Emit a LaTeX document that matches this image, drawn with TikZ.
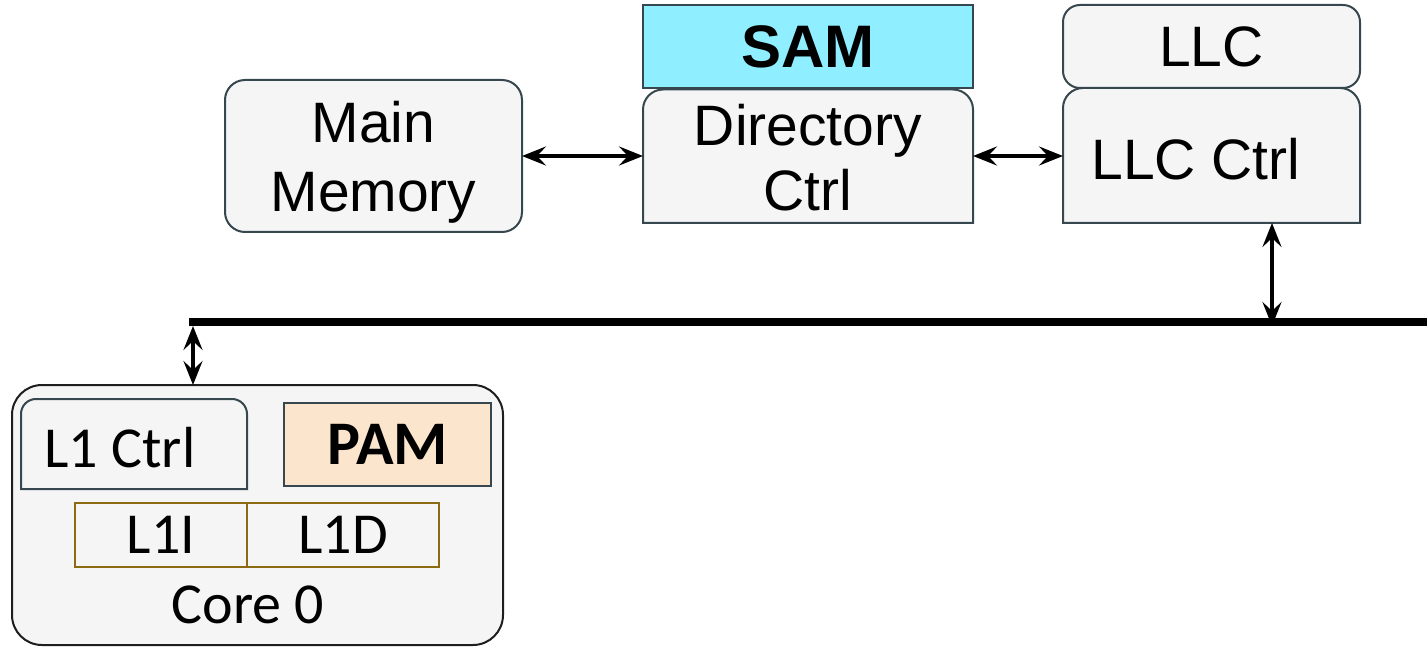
\documentclass[tikz,border=0pt]{standalone}
\usepackage{fontspec}
\setmainfont{Liberation Sans}
\newfontfamily\calfont{Carlito}
\usetikzlibrary{arrows.meta,backgrounds}
\definecolor{boxfill}{HTML}{F5F5F5}
\definecolor{boxline}{HTML}{36474F}
\definecolor{coreline}{HTML}{1E1E1E}
\definecolor{samfill}{HTML}{8FEEFF}
\definecolor{pamfill}{HTML}{FCE5CD}
\definecolor{cacheline}{HTML}{8C6A12}
\tikzset{linktip/.tip={Stealth[length=24pt 0,width=19pt 0,inset=9pt 0]}}
\begin{document}
\begin{tikzpicture}[x=1pt,y=-1pt,
  every node/.style={inner sep=0pt,outer sep=0pt,text depth=0pt},
  sans/.style={font=\fontsize{57}{68}\selectfont},
  sansbold/.style={font=\fontsize{60}{70}\selectfont\bfseries},
  cal/.style={font=\fontsize{58}{68}\selectfont\calfont},
  calbold/.style={font=\fontsize{62}{72}\selectfont\calfont\bfseries},
  tile/.style={draw=boxline,fill=boxfill,line width=2pt},
  shell/.style={draw=boxline,fill=boxfill,line width=2pt},
  cachebox/.style={draw=cacheline,line width=2pt,minimum height=64pt},
  link/.style={linktip-linktip,line width=3.5pt},
  bus/.style={line width=8pt}]
\useasboundingbox (0,0) rectangle (1427,647);

% upper row: memory, directory, last-level cache
\node[tile,sans,align=center,rounded corners=20pt,minimum width=297pt,minimum height=152pt] (mem) at (373.5,156) {Main\\[1pt]Memory};
\node[draw=boxline,fill=samfill,line width=2pt,sansbold,minimum width=330pt,minimum height=83pt] (sam) at (808,46.5) {SAM};
\node[sans,align=center,minimum width=330pt,minimum height=135pt] (dir) at (808,157) {Directory\\[-3pt]Ctrl};
\node[tile,sans,rounded corners=17pt,minimum width=297pt,minimum height=83pt] (llc) at (1211.5,46.5) {LLC};
\node[minimum width=297pt,minimum height=135pt] (llcctrl) at (1211.5,155.5) {};
\node[sans,anchor=base] (llcctrltxt) at (1196,180) {LLC Ctrl};

% core 0 contents
\node[minimum width=226pt,minimum height=90pt] (l1ctrl) at (134,444) {};
\node[cal,anchor=base] (l1ctrltxt) at (120,467) {L1 Ctrl};
\node[draw=boxline,fill=pamfill,line width=2pt,calbold,minimum width=207pt,minimum height=83pt] (pam) at (387.5,444.5) {PAM};
\node[cachebox,cal,minimum width=172pt] (l1i) at (161,535) {L1I};
\node[cachebox,cal,minimum width=192pt] (l1d) at (343,535) {L1D};
\node[cal,anchor=base] (corelbl) at (248,623) {Core 0};

% shells drawn underneath the labels
\begin{scope}[on background layer]
  \node[draw=coreline,fill=boxfill,line width=2pt,rounded corners=30pt,minimum width=491pt,minimum height=260pt] (core) at (257.5,515) {};
  \draw[shell] ([yshift=1.5pt]dir.south west) -- ([yshift=-20pt]dir.north west)
    arc[start angle=180,end angle=90,radius=20pt] -- ([xshift=-20pt]dir.north east)
    arc[start angle=90,end angle=0,radius=20pt] -- ([yshift=1.5pt]dir.south east) -- cycle;
  \draw[shell] (llcctrl.south west) -- ([yshift=-20pt]llcctrl.north west)
    arc[start angle=180,end angle=90,radius=20pt] -- ([xshift=-20pt]llcctrl.north east)
    arc[start angle=90,end angle=0,radius=20pt] -- (llcctrl.south east) -- cycle;
  \draw[shell] (l1ctrl.south west) -- ([yshift=-15pt]l1ctrl.north west)
    arc[start angle=180,end angle=90,radius=15pt] -- ([xshift=-15pt]l1ctrl.north east)
    arc[start angle=90,end angle=0,radius=15pt] -- (l1ctrl.south east) -- cycle;
\end{scope}

% interconnect
\coordinate (busL) at (189,322);
\coordinate (busR) at (1427,322);
\draw[bus] (busL) -- (busR);
\coordinate (llctap) at (1272,326);
\coordinate (coretap) at (193,322);

\draw[link] (mem.east) -- (mem.east -| dir.west);
\draw[link] (dir.east |- mem.east) -- (llcctrl.west |- mem.east);
\draw[link] (llctap |- llcctrl.south) -- (llctap);
\draw[link] ([yshift=-4pt]coretap) -- (coretap |- core.north);
\end{tikzpicture}
\end{document}
